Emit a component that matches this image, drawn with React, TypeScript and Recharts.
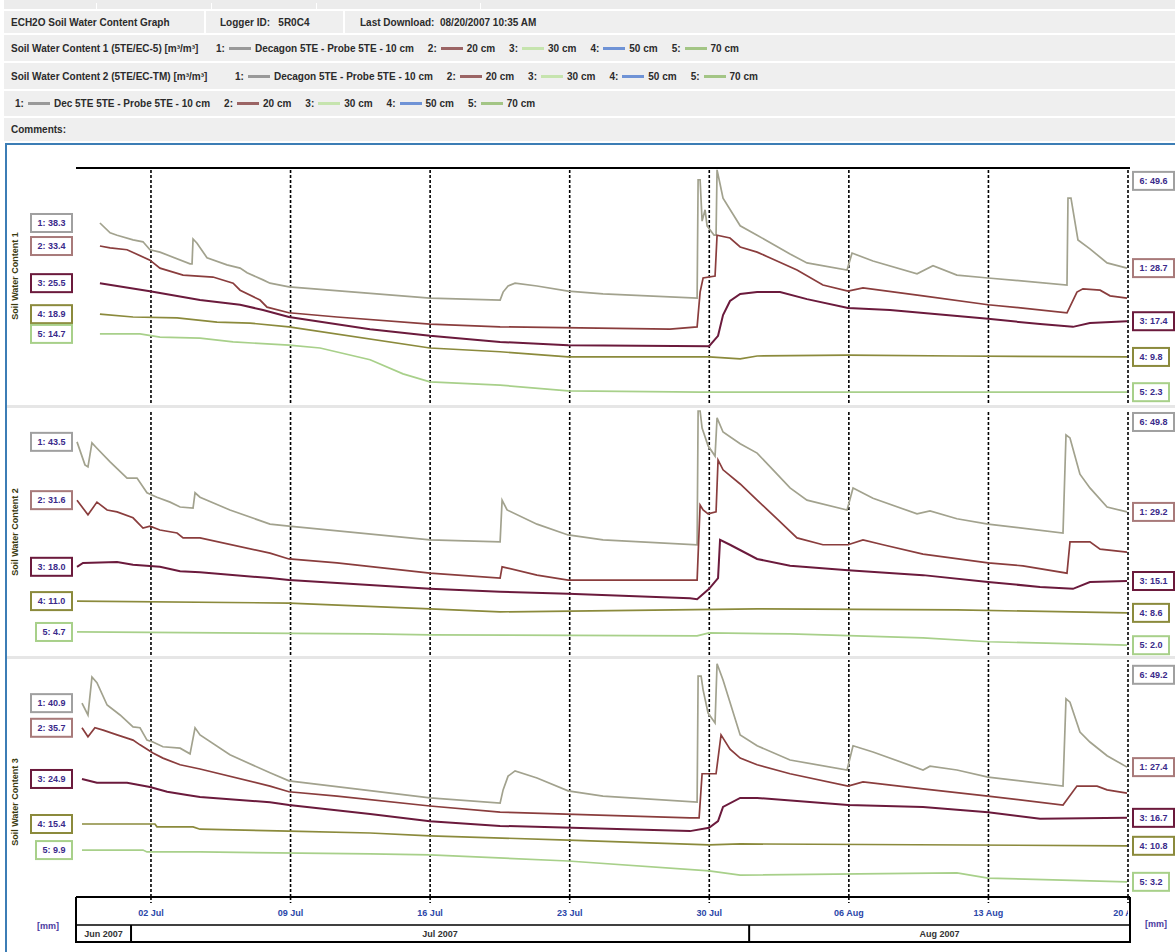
import React from 'react';
import { LineChart, Line, XAxis, YAxis, ReferenceLine } from 'recharts';

// time axis: days counted from 1 Jul 2007 00:00
const X_DOMAIN: [number, number] = [-2.76, 50.1];
const DAY_TICKS = [1, 8, 15, 22, 29, 36, 43, 50];
const DAY_LABELS = ['02 Jul', '09 Jul', '16 Jul', '23 Jul', '30 Jul', '06 Aug', '13 Aug', '20 Aug'];
const MONTH_NAMES = ['Jun 2007', 'Jul 2007', 'Aug 2007'];
const MONTH_STARTS = [-30, 0, 31];
const MONTH_END = 62;

const PANEL_TITLES = ['Soil Water Content 1', 'Soil Water Content 2', 'Soil Water Content 3'];
const DEPTHS = ['10 cm', '20 cm', '30 cm', '50 cm', '70 cm'];

// [day, value] per series, one group per panel
const P1_S1 = [[-1.56,38.3],[-1.05,36.2],[-0.7,35.7],[0.1,34.7],[0.6,34.3],[0.95,32.6],[1.45,32.1],[2.96,29.6],[3.06,29.6],[3.11,34.9],[3.31,34.0],[3.81,30.9],[4.81,29.4],[5.47,28.7],[5.82,27.7],[6.62,26.2],[6.97,25.5],[7.92,24.7],[14.99,22.3],[18.51,21.9],[18.66,23.6],[18.91,24.9],[19.26,25.5],[20.36,24.9],[21.92,23.8],[23.67,23.2],[28.39,22.3],[28.44,47.5],[28.54,47.5],[28.64,38.7],[28.79,41.1],[28.89,37.7],[29.24,35.7],[29.34,35.7],[29.39,49.6],[29.54,46.6],[29.69,43.6],[30.55,37.7],[31.4,35.7],[33.05,31.7],[33.9,29.8],[35.91,28.3],[36.16,31.9],[37.21,30.2],[39.42,27.5],[40.22,29.2],[41.42,27.2],[42.98,26.6],[46.94,25.1],[46.99,43.6],[47.14,43.6],[47.49,34.7],[48.09,32.8],[48.95,29.8],[49.95,28.7]];
const P1_S2 = [[-1.56,33.4],[-1.05,33.0],[-0.2,32.6],[0.95,30.4],[1.45,28.7],[2.61,27.2],[4.11,26.8],[5.12,25.5],[5.47,24.0],[6.47,21.9],[6.82,20.4],[7.92,19.2],[10.33,18.3],[14.99,16.8],[18.51,16.2],[27.03,15.7],[28.39,16.2],[28.54,23.6],[28.69,26.6],[29.29,27.0],[29.39,35.7],[30.04,35.1],[30.55,33.2],[31.4,32.1],[32.2,30.6],[33.4,28.3],[34.7,25.1],[35.96,23.8],[36.71,24.5],[39.72,22.8],[42.98,20.9],[44.73,20.2],[46.94,19.2],[47.44,23.6],[47.74,24.3],[48.6,24.0],[49.1,22.8],[49.95,22.3]];
const P1_S3 = [[-1.56,25.5],[0.95,23.8],[3.46,21.9],[5.47,20.9],[6.62,19.8],[7.92,18.3],[11.99,15.7],[14.99,14.3],[18.51,13.0],[21.92,12.3],[28.99,12.1],[29.44,14.3],[29.69,18.7],[30.04,21.7],[30.55,23.2],[31.4,23.6],[32.55,23.6],[33.9,22.1],[35.96,20.2],[38.06,19.8],[42.98,17.9],[45.59,16.8],[47.24,16.2],[48.09,17.0],[49.95,17.4]];
const P1_S4 = [[-1.56,18.9],[0.1,18.3],[2.31,18.1],[4.31,17.2],[5.97,17.0],[7.92,16.2],[14.99,11.7],[18.51,10.9],[21.92,9.8],[28.99,9.8],[30.55,9.4],[31.4,10.0],[35.96,10.2],[41.42,10.0],[49.95,9.8]];
const P1_S5 = [[-1.56,14.7],[0.45,14.7],[1.45,14.0],[3.46,13.8],[5.12,13.0],[7.92,12.3],[9.48,11.7],[11.99,9.2],[13.64,6.2],[14.99,4.5],[18.51,3.8],[21.92,2.6],[28.54,2.3],[49.95,2.3]];

const P2_S1 = [[-2.71,43.5],[-2.31,38.8],[-2.16,38.4],[-1.96,43.3],[-1.71,42.2],[-1.05,39.4],[-0.2,36.1],[0.3,36.1],[0.8,33.1],[1.3,32.2],[1.96,31.2],[2.46,30.2],[3.11,30.0],[3.21,33.1],[3.46,32.2],[4.96,29.6],[6.97,26.7],[7.92,26.3],[14.99,23.5],[18.51,23.1],[18.61,31.6],[18.86,29.6],[20.36,26.7],[21.92,24.5],[23.67,23.5],[28.39,22.5],[28.44,49.8],[28.54,49.8],[28.64,46.3],[28.94,42.7],[29.29,40.6],[29.39,48.4],[29.69,45.5],[30.55,43.1],[31.4,41.2],[32.4,36.9],[33.05,34.1],[33.9,31.6],[35.91,29.6],[36.21,34.1],[37.21,32.0],[39.42,28.8],[40.07,29.4],[41.42,27.8],[42.98,26.7],[46.74,24.9],[46.89,44.9],[47.09,44.3],[47.59,36.9],[48.09,34.1],[48.95,30.2],[49.95,29.2]];
const P2_S2 = [[-2.71,31.6],[-2.16,28.6],[-1.71,31.2],[-1.2,29.6],[-0.7,29.2],[0.1,28.0],[0.6,25.9],[0.95,26.3],[1.45,25.5],[2.31,24.9],[2.61,23.9],[3.46,23.9],[6.97,20.8],[7.92,19.6],[10.33,18.8],[14.99,16.7],[18.51,15.7],[18.61,18.0],[20.36,16.3],[21.92,15.3],[28.39,15.3],[28.54,30.6],[28.69,29.6],[28.94,28.8],[29.34,29.2],[29.44,39.8],[29.69,37.8],[30.55,34.9],[31.4,31.6],[32.4,27.8],[33.4,23.9],[34.7,22.5],[35.96,22.5],[36.71,23.5],[37.71,22.5],[39.72,20.6],[42.98,18.8],[44.73,18.2],[46.94,16.7],[47.09,23.1],[48.09,23.1],[48.6,21.6],[49.95,21.0]];
const P2_S3 = [[-2.71,18.0],[-2.41,18.8],[-0.7,19.0],[0.1,18.4],[1.45,18.0],[2.46,17.1],[3.46,16.9],[6.97,15.7],[7.92,15.3],[14.99,13.5],[18.51,12.9],[21.92,12.5],[28.03,11.6],[28.39,11.4],[28.99,13.5],[29.44,15.7],[29.54,23.5],[30.04,22.5],[31.4,19.6],[33.05,18.2],[35.96,17.3],[39.72,16.3],[42.98,14.9],[45.59,13.9],[47.24,13.5],[48.09,14.9],[49.95,15.1]];
const P2_S4 = [[-2.71,11.0],[7.92,10.6],[14.99,9.4],[18.51,8.8],[31.4,9.4],[41.42,9.2],[49.95,8.6]];
const P2_S5 = [[-2.71,4.7],[11.99,4.3],[14.99,4.1],[28.39,3.9],[28.99,4.5],[33.05,4.3],[39.72,3.5],[42.98,2.7],[49.95,2.0]];

const P3_S1 = [[-2.46,40.9],[-2.16,38.4],[-1.96,46.4],[-1.71,45.2],[-1.2,40.5],[-0.55,38.4],[0.1,35.9],[0.45,35.7],[0.8,33.1],[1.1,32.7],[1.6,31.7],[2.46,31.4],[2.96,30.2],[3.21,35.7],[3.46,34.2],[4.96,30.0],[6.97,26.2],[7.92,24.5],[14.99,20.9],[18.51,19.8],[18.66,22.6],[18.91,25.5],[19.26,26.6],[20.36,25.1],[21.92,22.4],[23.67,21.3],[28.39,20.0],[28.44,46.6],[28.59,46.6],[28.69,43.7],[28.94,38.8],[29.29,36.7],[29.39,49.2],[29.69,45.8],[30.55,34.2],[31.4,31.9],[33.05,28.9],[35.91,26.8],[36.21,31.9],[37.21,30.6],[39.72,26.8],[40.07,27.6],[41.42,26.8],[42.98,25.3],[46.74,23.4],[46.89,41.8],[47.09,41.1],[47.59,34.8],[48.09,32.7],[48.95,29.8],[49.95,27.4]];
const P3_S2 = [[-2.46,35.7],[-2.16,33.8],[-1.81,35.7],[-1.4,35.2],[-0.7,34.2],[0.1,33.1],[0.45,32.1],[1.1,30.4],[1.6,29.3],[2.46,27.9],[3.46,27.0],[6.97,23.4],[7.92,22.2],[10.33,21.3],[14.99,19.2],[18.51,17.9],[28.03,16.7],[28.49,16.7],[28.64,26.0],[29.34,26.0],[29.59,34.2],[30.04,31.2],[30.55,29.3],[31.4,27.9],[33.05,26.0],[35.96,23.4],[36.71,24.3],[39.72,22.8],[42.98,21.3],[46.74,19.4],[47.44,23.4],[48.45,23.4],[48.95,22.6],[49.95,21.9]];
const P3_S3 = [[-2.46,24.9],[-1.71,24.1],[-0.2,24.1],[0.95,23.2],[1.81,22.2],[2.81,21.5],[3.46,21.1],[6.97,20.0],[7.92,19.4],[11.99,17.5],[14.99,16.0],[18.51,15.0],[28.03,13.9],[28.99,14.6],[29.44,16.0],[29.69,19.0],[30.55,20.9],[31.4,20.9],[35.96,19.4],[39.72,19.0],[42.98,17.9],[45.59,16.5],[49.95,16.7]];
const P3_S4 = [[-2.46,15.4],[1.2,15.4],[1.3,14.8],[3.11,14.8],[3.46,14.3],[7.92,13.9],[11.99,13.5],[14.99,12.9],[21.92,12.0],[28.99,11.0],[30.55,11.2],[49.95,10.8]];
const P3_S5 = [[-2.46,9.9],[0.6,9.9],[0.8,9.5],[3.46,9.5],[11.99,9.1],[14.99,8.9],[21.92,7.6],[28.99,5.5],[30.55,4.6],[41.42,5.1],[42.98,4.0],[49.95,3.2]];

const LINE_COLORS = ['#a2a28e', '#8a3d3d', '#6b1a3c', '#8b8a3c', '#a8d08a'];
const LEFT_BOX = ['#a0a0a0', '#a87a7a', '#6b1a3c', '#8b8a3c', '#a8d08a'];
const RIGHT_BOX = ['#a87a7a', '', '#6b1a3c', '#8b8a3c', '#a8d08a'];
const LEGEND_COLORS = ['#999999', '#9b6464', '#c6e4ae', '#6f93d6', '#a3c585'];

const FONT = '"Liberation Sans", Arial, sans-serif';
const PLOT_LEFT = 76;
const PLOT_RIGHT = 1130;

type Pt = { t: number; v: number };
const toPts = (a: number[][]): Pt[] => a.map(([t, v]) => ({ t, v }));

const PANELS = [
  { series: [P1_S1, P1_S2, P1_S3, P1_S4, P1_S5].map(toPts), top: 150, height: 260, mTop: 18, mBottom: 7, frameTop: true, axis: false, titleY: 276 },
  { series: [P2_S1, P2_S2, P2_S3, P2_S4, P2_S5].map(toPts), top: 405, height: 255, mTop: 5, mBottom: 5, frameTop: false, axis: false, titleY: 532 },
  { series: [P3_S1, P3_S2, P3_S3, P3_S4, P3_S5].map(toPts), top: 657, height: 291, mTop: 3, mBottom: 5, frameTop: false, axis: true, titleY: 802 },
];

// month band: label ticks at the middle of the visible part, separators at month starts
const monthMid = MONTH_STARTS.map((s, i) => {
  const e = i + 1 < MONTH_STARTS.length ? MONTH_STARTS[i + 1] : MONTH_END;
  return (Math.max(s, X_DOMAIN[0]) + Math.min(e, X_DOMAIN[1])) / 2;
});
const monthBounds = MONTH_STARTS.filter((s) => s > X_DOMAIN[0] && s < X_DOMAIN[1]);
const MONTH_TICKS = [...monthBounds, ...monthMid];

const fmt = (v: number) => v.toFixed(1);

function ValueBox({ x, cy, text, color, anchor }: any) {
  const w = text.length * 5 + 6;
  const bx = anchor === 'end' ? x - w : x;
  return (
    <g>
      <rect x={bx} y={cy - 9} width={w} height={18} fill="#fff" stroke={color} strokeWidth={2} />
      <text x={bx + w / 2} y={cy + 3} textAnchor="middle" fontSize={9} fontWeight="bold" fill="#3a2a8a" fontFamily={FONT}>
        {text}
      </text>
    </g>
  );
}

const makeLabel = (pts: Pt[], s: number) => {
  const last = pts.length - 1;
  let peak = 0;
  pts.forEach((p, i) => {
    if (p.v > pts[peak].v) peak = i;
  });
  return (props: any) => {
    const index = props.index;
    const y = props.y ?? props.viewBox?.y;
    if (index === 0) {
      return <ValueBox x={PLOT_LEFT - 4} cy={y} anchor="end" color={LEFT_BOX[s]} text={`${s + 1}: ${fmt(pts[0].v)}`} />;
    }
    if (index === last && RIGHT_BOX[s]) {
      return <ValueBox x={PLOT_RIGHT + 3} cy={y} anchor="start" color={RIGHT_BOX[s]} text={`${s + 1}: ${fmt(pts[last].v)}`} />;
    }
    if (s === 0 && index === peak) {
      return <ValueBox x={PLOT_RIGHT + 3} cy={y + 11} anchor="start" color="#a0a0a0" text={`6: ${fmt(pts[peak].v)}`} />;
    }
    return <g />;
  };
};

const DayTick = (props: any) => {
  const { x, y, payload } = props;
  const i = DAY_TICKS.indexOf(payload.value);
  return (
    <g>
      <defs>
        <clipPath id={`dayclip${i}`}>
          <rect x={0} y={y} width={PLOT_RIGHT - 2} height={30} />
        </clipPath>
      </defs>
      <line x1={x} x2={x} y1={y} y2={y + 6} stroke="#000" strokeWidth={1.6} strokeDasharray="3 2" />
      <text x={x} y={y + 19} textAnchor="middle" fontSize={9} fontWeight="bold" fill="#2a46a8" fontFamily={FONT} clipPath={`url(#dayclip${i})`}>
        {DAY_LABELS[i]}
      </text>
    </g>
  );
};

const MonthTick = (props: any) => {
  const { x, y, payload } = props;
  const mi = monthMid.indexOf(payload.value);
  if (mi < 0) {
    return <line x1={x} x2={x} y1={y} y2={y + 18} stroke="#000" strokeWidth={2} />;
  }
  return (
    <text x={x} y={y + 12} textAnchor="middle" fontSize={9} fontWeight="bold" fill="#333" fontFamily={FONT}>
      {MONTH_NAMES[mi]}
    </text>
  );
};

function Panel({ p }: any) {
  return (
    <div style={{ position: 'absolute', left: 0, top: p.top }}>
      <LineChart width={1175} height={p.height} margin={{ top: p.mTop, right: 45, bottom: p.mBottom, left: PLOT_LEFT }}>
        <XAxis
          xAxisId="d"
          type="number"
          dataKey="t"
          domain={X_DOMAIN}
          allowDataOverflow
          ticks={DAY_TICKS}
          interval={0}
          hide={!p.axis}
          height={28}
          tickSize={0}
          tickMargin={0}
          tickLine={false}
          axisLine={{ stroke: '#000', strokeWidth: 2 }}
          tick={(tp: any) => <DayTick {...tp} />}
        />
        {p.axis && (
          <XAxis
            xAxisId="m"
            type="number"
            dataKey="t"
            domain={X_DOMAIN}
            allowDataOverflow
            ticks={MONTH_TICKS}
            interval={0}
            height={18}
            tickSize={0}
            tickMargin={0}
            tickLine={false}
            axisLine={{ stroke: '#000', strokeWidth: 1.5 }}
            tick={(tp: any) => <MonthTick {...tp} />}
          />
        )}
        <YAxis yAxisId="l" type="number" domain={[0, 50]} width={0} tick={false} tickLine={false} axisLine={{ stroke: '#000', strokeWidth: 2 }} />
        <YAxis yAxisId="r" orientation="right" type="number" domain={[0, 50]} width={0} tick={false} tickLine={false} axisLine={{ stroke: '#000', strokeWidth: 2 }} />
        {DAY_TICKS.map((d) => (
          <ReferenceLine key={d} xAxisId="d" yAxisId="l" x={d} stroke="#000" strokeWidth={1.6} strokeDasharray="3 2" />
        ))}
        {p.frameTop && <ReferenceLine xAxisId="d" yAxisId="l" y={50} stroke="#000" strokeWidth={2} />}
        {p.series.map((pts: Pt[], i: number) => (
          <Line
            key={i}
            xAxisId="d"
            yAxisId="l"
            data={pts}
            dataKey="v"
            type="linear"
            stroke={LINE_COLORS[i]}
            strokeWidth={i === 2 ? 2 : 1.7}
            dot={false}
            isAnimationActive={false}
            label={makeLabel(pts, i)}
          />
        ))}
      </LineChart>
    </div>
  );
}

const rowStyle = (top: number, height: number): React.CSSProperties => ({
  position: 'absolute',
  left: 4,
  top,
  width: 1171,
  height,
  background: '#efefef',
  display: 'flex',
  alignItems: 'center',
  whiteSpace: 'nowrap',
});

function LegendItems({ first, gap }: { first: string; gap: number }) {
  return (
    <>
      {DEPTHS.map((d, i) => (
        <span key={i} style={{ display: 'inline-flex', alignItems: 'center', marginRight: gap }}>
          <span>{i + 1}:</span>
          <span style={{ display: 'inline-block', width: 22, height: 3, background: LEGEND_COLORS[i], margin: '0 4px' }} />
          <span>{i === 0 ? first + d : d}</span>
        </span>
      ))}
    </>
  );
}

export default function App() {
  const text: React.CSSProperties = { fontFamily: FONT, fontSize: 10, fontWeight: 'bold', color: '#2b2b2b' };
  return (
    <div style={{ position: 'absolute', left: 0, top: 0, width: 1175, height: 952, background: '#fff', overflow: 'hidden', ...text }}>
      <div style={{ ...rowStyle(0, 9), background: '#ececec' }}>
        {[92, 207, 312, 476].map((x) => (
          <div key={x} style={{ position: 'absolute', left: x, top: 3, width: 1, height: 6, background: '#fff' }} />
        ))}
      </div>
      <div style={{ ...rowStyle(11, 22), background: '#fff' }}>
        <div style={{ position: 'absolute', left: 0, top: 0, width: 200, height: 22, background: '#efefef', display: 'flex', alignItems: 'center', paddingLeft: 7, boxSizing: 'border-box' }}>
          ECH2O Soil Water Content Graph
        </div>
        <div style={{ position: 'absolute', left: 202, top: 0, width: 137, height: 22, background: '#efefef', display: 'flex', alignItems: 'center', paddingLeft: 14, boxSizing: 'border-box' }}>
          Logger ID:&nbsp;&nbsp; 5R0C4
        </div>
        <div style={{ position: 'absolute', left: 341, top: 0, width: 830, height: 22, background: '#efefef', display: 'flex', alignItems: 'center', paddingLeft: 15, boxSizing: 'border-box' }}>
          Last Download:&nbsp; 08/20/2007 10:35 AM
        </div>
      </div>
      <div style={{ ...rowStyle(35, 26), paddingLeft: 7, boxSizing: 'border-box' }}>
        <span style={{ width: 205 }}>Soil Water Content 1 (5TE/EC-5) [m³/m³]</span>
        <LegendItems first="Decagon 5TE - Probe 5TE - " gap={14} />
      </div>
      <div style={{ ...rowStyle(63, 26), paddingLeft: 7, boxSizing: 'border-box' }}>
        <span style={{ width: 224 }}>Soil Water Content 2 (5TE/EC-TM) [m³/m³]</span>
        <LegendItems first="Decagon 5TE - Probe 5TE - " gap={14} />
      </div>
      <div style={{ ...rowStyle(91, 25), paddingLeft: 11, boxSizing: 'border-box' }}>
        <LegendItems first="Dec 5TE 5TE - Probe 5TE - " gap={14} />
      </div>
      <div style={{ ...rowStyle(118, 23), paddingLeft: 7, boxSizing: 'border-box' }}>Comments:</div>

      <div style={{ position: 'absolute', left: 5, top: 143, width: 1172, height: 812, borderTop: '2px solid #3c7db5', borderLeft: '2px solid #3c7db5', background: '#fff' }} />
      <div style={{ position: 'absolute', left: 7, top: 405, width: 1168, height: 3, background: '#e6e6e6' }} />
      <div style={{ position: 'absolute', left: 7, top: 656, width: 1168, height: 3, background: '#e6e6e6' }} />
      <div style={{ position: 'absolute', left: 75, top: 897, width: 1056, height: 46, boxSizing: 'border-box', borderLeft: '2px solid #000', borderRight: '2px solid #000', borderBottom: '2px solid #000' }} />

      {PANELS.map((p, i) => (
        <Panel key={i} p={p} />
      ))}

      {PANELS.map((p, i) => (
        <div key={i} style={{ position: 'absolute', left: 15, top: p.titleY, transform: 'translate(-50%, -50%) rotate(-90deg)', whiteSpace: 'nowrap', color: '#3a3a10', fontSize: 9 }}>
          {PANEL_TITLES[i]}
        </div>
      ))}
      <div style={{ position: 'absolute', left: 37, top: 921, color: '#4a3aa0', fontSize: 9 }}>[mm]</div>
      <div style={{ position: 'absolute', left: 1145, top: 919, color: '#4a3aa0', fontSize: 9 }}>[mm]</div>
    </div>
  );
}
